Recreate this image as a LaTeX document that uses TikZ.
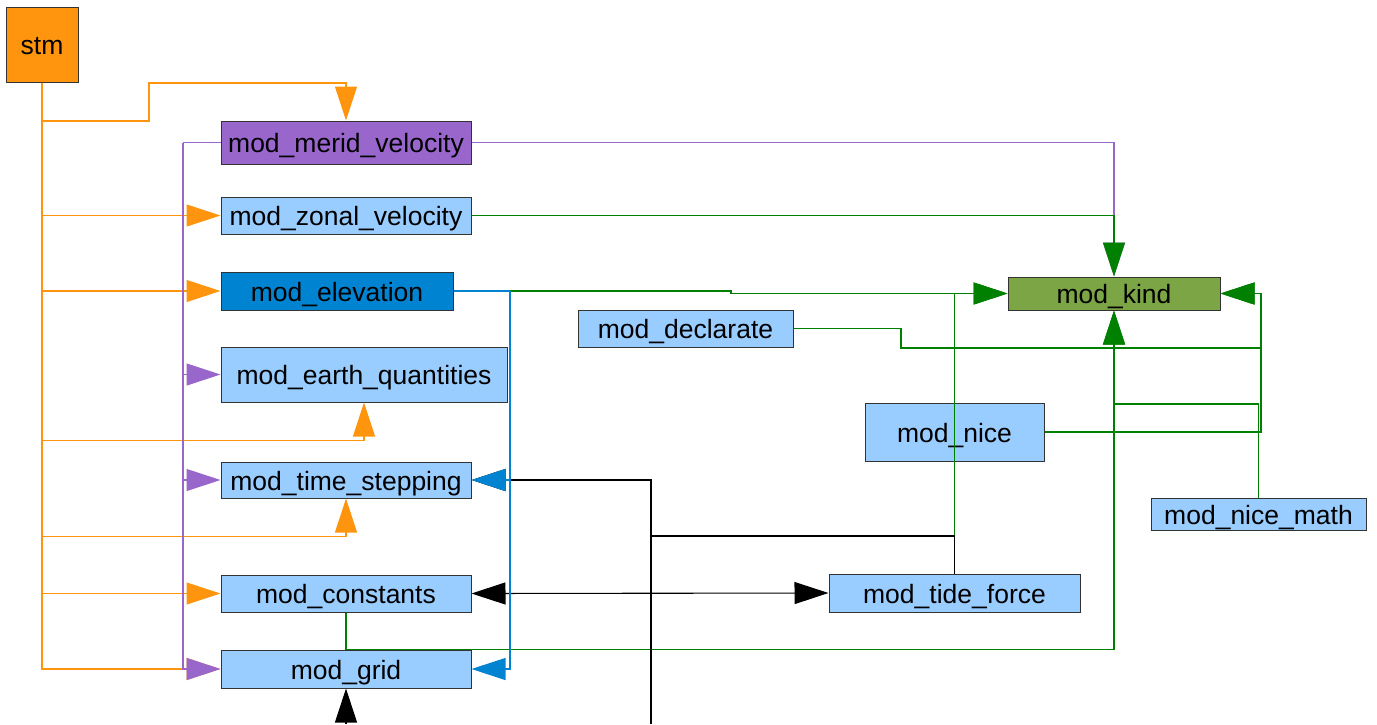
\documentclass[tikz,border=0pt]{standalone}
\usepackage{fontspec}
\setmainfont{Liberation Sans}
\usetikzlibrary{arrows.meta}
\definecolor{stmorange}{HTML}{FF950E}
\definecolor{modpurple}{HTML}{9966CC}
\definecolor{modblue}{HTML}{99CCFF}
\definecolor{elevblue}{HTML}{0084D1}
\definecolor{kindgreen}{HTML}{7CA545}
\definecolor{depgreen}{HTML}{008000}
\begin{document}
\begin{tikzpicture}[x=1pt,y=-1pt,
    mod/.style={draw=black!80,fill=modblue,inner sep=0pt,line width=1pt,
      text height=20.4pt,text depth=0pt,
      minimum width=250pt,minimum height=37pt,font=\fontsize{26.5}{30}\selectfont},
    dep/.style={line width=1.1pt,-{Triangle[length=34pt,width=22pt]}},
    link/.style={line width=1.1pt}]
  \useasboundingbox (0,0) rectangle (1377,724);
  \node[mod,fill=stmorange,minimum width=72pt,minimum height=75pt] (stm) at (42,44.5) {stm};
  \node[mod,fill=modpurple,minimum height=43pt] (merid) at (346,142.5) {mod\_merid\_velocity};
  \node[mod] (zonal) at (346,215.5) {mod\_zonal\_velocity};
  \node[mod,fill=elevblue,minimum width=232pt,minimum height=38pt] (elev) at (337,291) {mod\_elevation};
  \node[mod,minimum width=286pt,minimum height=55pt] (earth) at (364,374.5) {mod\_earth\_quantities};
  \node[mod,minimum height=36pt] (time) at (346,480) {mod\_time\_stepping};
  \node[mod] (const) at (346,593.5) {mod\_constants};
  \node[mod,minimum height=38pt] (grid) at (346,669) {mod\_grid};
  \node[mod,fill=kindgreen,minimum width=212pt,minimum height=33pt] (kind) at (1114,293.5) {mod\_kind};
  \node[mod,minimum width=215pt] (decl) at (685.5,328.5) {mod\_declarate};
  \node[mod,minimum width=179pt,minimum height=58pt] (nice) at (954.5,432) {mod\_nice};
  \node[mod,minimum width=215pt,minimum height=32pt] (nicemath) at (1258.5,514) {mod\_nice\_math};
  \node[mod,minimum width=251pt,minimum height=38pt] (tide) at (954.5,593) {mod\_tide\_force};
  \coordinate (pv) at (183,142.5);
  \coordinate (be) at (510,291);
  \coordinate (tb) at (651,724);
  \coordinate (gb) at (346,724);

  \begin{scope}[stmorange]
    \draw[dep] (stm.south) |- (149,121) -- (149,83) -| (merid.north);
    \draw[dep] (stm.south) |- (zonal.west);
    \draw[dep] (stm.south) |- (elev.west);
    \draw[dep] (stm.south) |- ([yshift=-38pt]earth.south) -- (earth.south);
    \draw[dep] (stm.south) |- ([yshift=-38pt]time.south) -- (time.south);
    \draw[dep] (stm.south) |- (const.west);
    \draw[dep] (stm.south) |- (grid.west);
  \end{scope}
  \begin{scope}[modpurple]
    \draw[link] (merid.west) -- (pv);
    \draw[dep] (pv) |- (earth.west);
    \draw[dep] (pv) |- (time.west);
    \draw[dep] (pv) |- (grid.west);
    \draw[dep] (merid.east) -| (kind.north);
  \end{scope}
  \begin{scope}[depgreen]
    \draw[dep] (zonal.east) -| (kind.north);
    \draw[dep] (elev.east) -- (731,291) |- (kind.west);
    \draw[dep] (tide.north) |- (kind.west);
    \draw[dep] (decl.east) -- (901,328.5) |- (1261,348) |- (kind.east);
    \draw[dep] (nice.east) -- (1261,432) |- (kind.east);
    \draw[dep] (nicemath.north) |- (1114,404) -- (kind.south);
    \draw[dep] (const.south) -- (grid.north) -| (kind.south);
  \end{scope}
  \begin{scope}[black]
    \draw[link] (tide.north) |- (651,536);
    \draw[dep] (tb) |- (time.east);
    \draw[dep,{Triangle[length=34pt,width=22pt]}-{Triangle[length=34pt,width=22pt]}] (const.east) -- (tide.west);
    \draw[dep] (gb) -- (grid.south);
  \end{scope}
  \begin{scope}[elevblue]
    \draw[link] (elev.east) -- (be);
    \draw[dep] (be) |- (time.east);
    \draw[dep] (be) |- (grid.east);
  \end{scope}
\end{tikzpicture}
\end{document}
